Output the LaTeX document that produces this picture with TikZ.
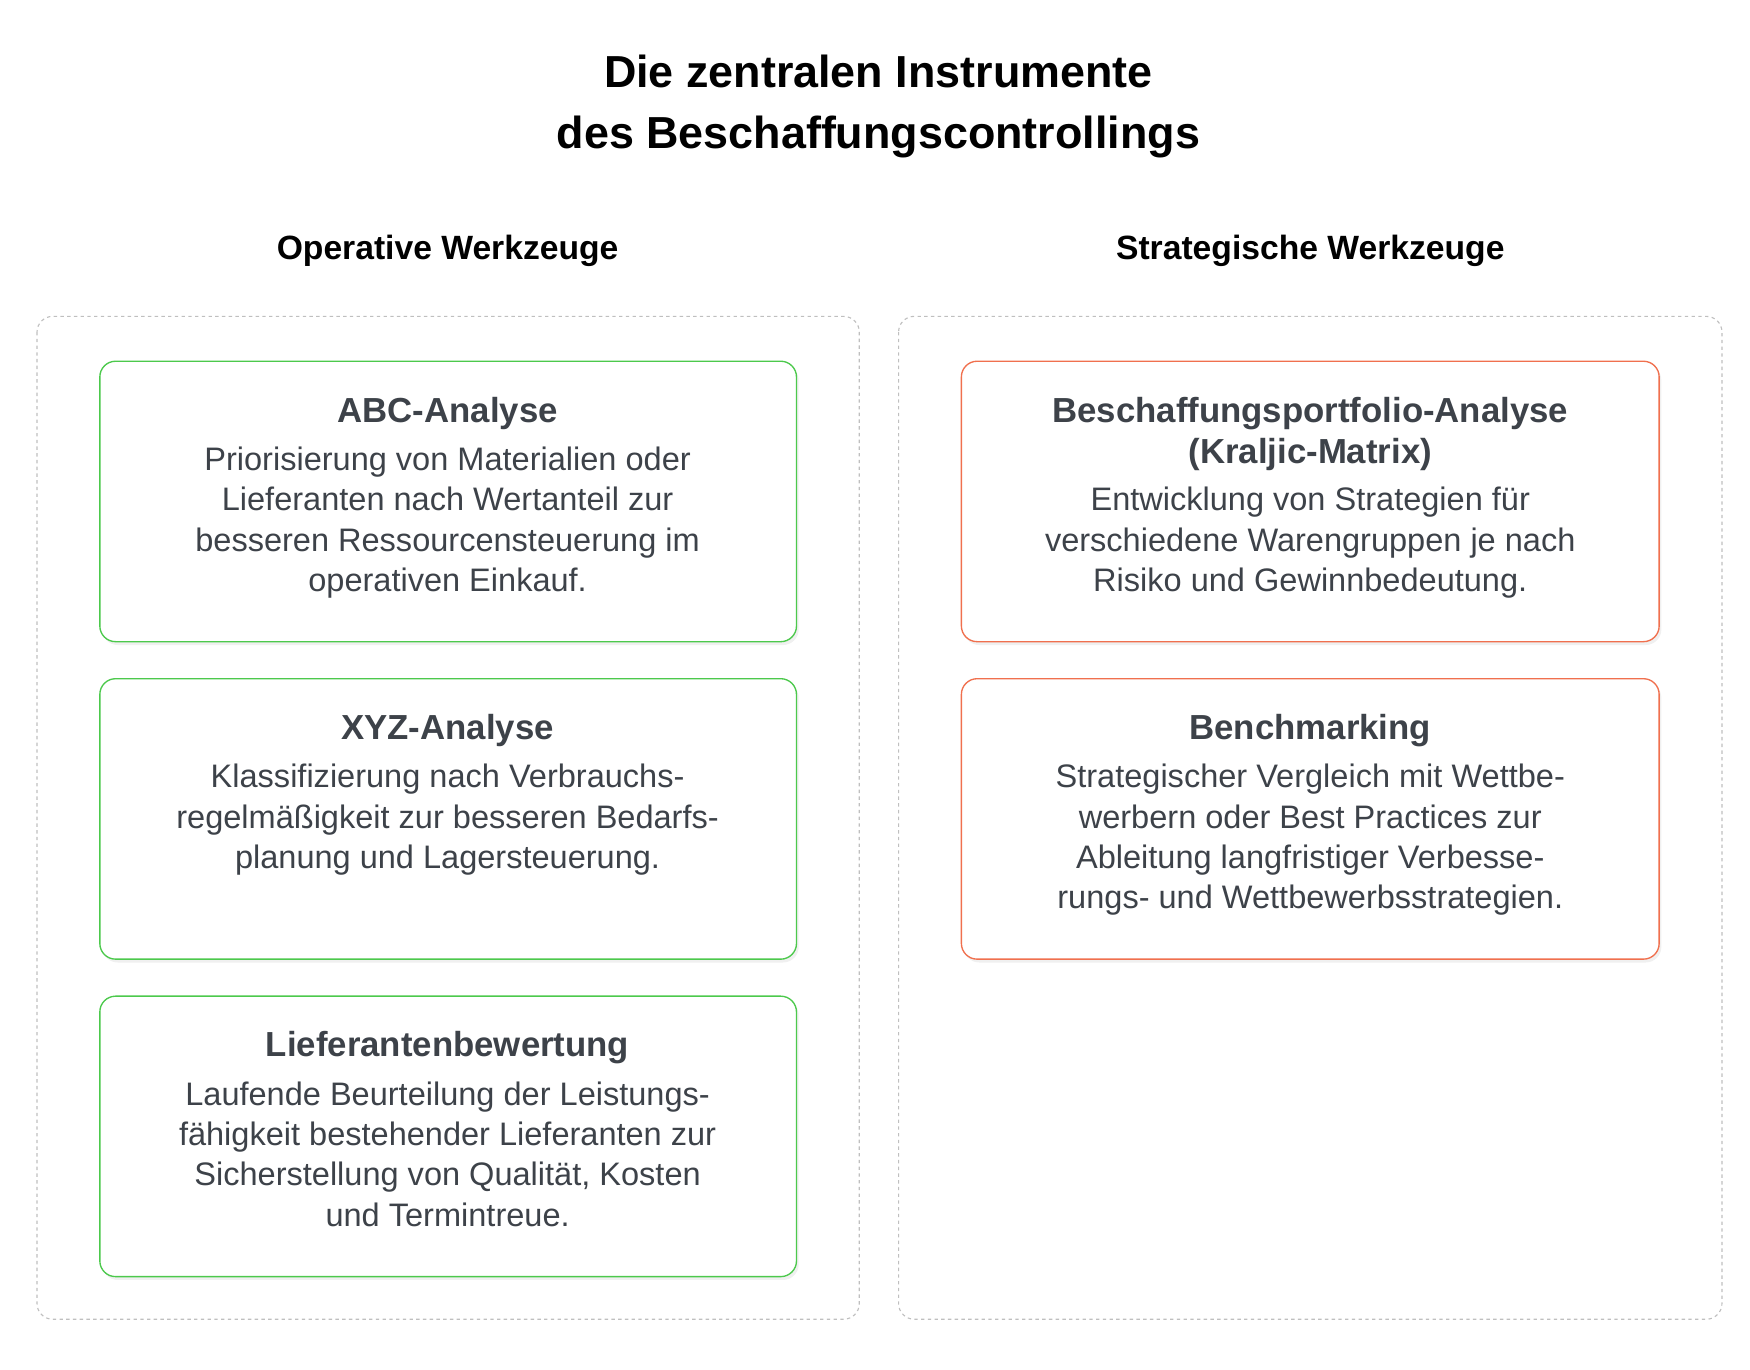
\documentclass[tikz,border=0pt]{standalone}
\usepackage{fontspec}
\setmainfont{Liberation Sans}
\usetikzlibrary{shadows}
\definecolor{txt}{HTML}{3D4249}
\definecolor{grn}{HTML}{4CC94C}
\definecolor{org}{HTML}{F0704E}
\tikzset{
 panel/.style={draw=black!25,dashed,rounded corners=14pt,line width=1pt},
 card/.style={draw=#1,fill=white,rounded corners=14pt,line width=1.2pt,drop shadow={shadow xshift=2pt,shadow yshift=-3pt,opacity=0.12}},
 ttl/.style={font=\fontsize{40}{54}\selectfont\bfseries,align=center},
 hdr/.style={font=\fontsize{30}{36}\selectfont\bfseries},
 ctitle/.style={font=\fontsize{31}{36}\selectfont\bfseries,text=txt,align=center},
 cbody/.style={font=\fontsize{29}{36}\selectfont,text=txt,align=center,anchor=north,inner sep=0pt},
}
\begin{document}
\begin{tikzpicture}[x=1pt,y=-1pt]
\useasboundingbox (0,0) rectangle (1560,1221);
\node[ttl] (title) at (783,95) {Die zentralen Instrumente\\des Beschaffungscontrollings};
\node[hdr] (h1) at (399,224) {Operative Werkzeuge};
\node[hdr] (h2) at (1168,224) {Strategische Werkzeuge};
\draw[panel] (33,282) rectangle (766,1176);
\draw[panel] (801,282) rectangle (1535,1176);
% left cards
\draw[card=grn] (89,322) rectangle (710,572);
\node[ctitle] (t1) at (399,369) {ABC-Analyse};
\node[cbody] (b1) at (399,398) {Priorisierung von Materialien oder\\Lieferanten nach Wertanteil zur\\besseren Ressourcensteuerung im\\operativen Einkauf.};
\draw[card=grn] (89,605) rectangle (710,855);
\node[ctitle] (t2) at (399,651) {XYZ-Analyse};
\node[cbody] (b2) at (399,681) {Klassifizierung nach Verbrauchs-\\regelmäßigkeit zur besseren Bedarfs-\\planung und Lagersteuerung.};
\draw[card=grn] (89,888) rectangle (710,1138);
\node[ctitle] (t3) at (399,934) {Lieferantenbewertung};
\node[cbody] (b3) at (399,964) {Laufende Beurteilung der Leistungs-\\fähigkeit bestehender Lieferanten zur\\Sicherstellung von Qualität, Kosten\\und Termintreue.};
% right cards
\draw[card=org] (857,322) rectangle (1479,572);
\node[ctitle] (t4) at (1168,387) {Beschaffungsportfolio-Analyse\\(Kraljic-Matrix)};
\node[cbody] (b4) at (1168,434) {Entwicklung von Strategien für\\verschiedene Warengruppen je nach\\Risiko und Gewinnbedeutung.};
\draw[card=org] (857,605) rectangle (1479,855);
\node[ctitle] (t5) at (1168,651) {Benchmarking};
\node[cbody] (b5) at (1168,681) {Strategischer Vergleich mit Wettbe-\\werbern oder Best Practices zur\\Ableitung langfristiger Verbesse-\\rungs- und Wettbewerbsstrategien.};
\end{tikzpicture}
\end{document}
